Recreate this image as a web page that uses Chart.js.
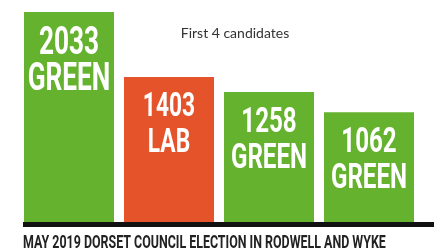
<!DOCTYPE html>
<html>
<head>
<meta charset="utf-8">
<script src="https://cdn.jsdelivr.net/npm/chart.js@4"></script>
<style>
  html, body { margin: 0; padding: 0; background: #fff; }
  #wrap { width: 434px; height: 252px; }
</style>
</head>
<body>
<div id="wrap"><canvas id="votes-chart" width="434" height="252"></canvas></div>
<script>
// --- Data ---
const parties = ['GREEN', 'LAB', 'GREEN', 'GREEN'];
const votes = [2033, 1403, 1258, 1062];
const barColors = ['#65b22f', '#e4532a', '#65b22f', '#65b22f'];

const titleText = 'First 4 candidates';
const captionText = 'MAY 2019 DORSET COUNCIL ELECTION IN RODWELL AND WYKE';

// label size in each bar (the poster uses slightly different sizes)
const labelSizes = [38, 33, 35, 35];

// condensed look: squeeze a bold sans horizontally
const SQUEEZE = 0.69;

function drawSqueezed(ctx, text, x, y, align) {
    ctx.save();
    ctx.translate(x, y);
    ctx.scale(SQUEEZE, 1);
    ctx.textAlign = align;
    ctx.fillText(text, 0, 0);
    ctx.restore();
}

// labels inside the bars, the small title and the caption under the axis
const annotations = {
    id: 'annotations',
    afterDatasetsDraw(chart) {
        const ctx = chart.ctx;
        const area = chart.chartArea;
        const meta = chart.getDatasetMeta(0);

        // thick base line
        ctx.save();
        ctx.fillStyle = '#111';
        ctx.fillRect(area.left + 4, area.bottom, chart.width - area.left - 4, 5);
        ctx.restore();

        ctx.save();
        ctx.fillStyle = '#ffffff';
        ctx.textBaseline = 'alphabetic';
        meta.data.forEach((bar, i) => {
            const size = labelSizes[i];
            const cap = size * 0.711;
            ctx.font = 'bold ' + size + 'px Roboto, "Liberation Sans", sans-serif';
            drawSqueezed(ctx, String(votes[i]), bar.x, bar.y + 15 + cap, 'center');
            drawSqueezed(ctx, parties[i], bar.x, bar.y + 51 + cap, 'center');
        });
        ctx.restore();

        ctx.save();
        ctx.fillStyle = '#333';
        ctx.font = '14px Lato, "Open Sans", sans-serif';
        ctx.textAlign = 'center';
        ctx.textBaseline = 'alphabetic';
        ctx.fillText(titleText, 235, 38);
        ctx.restore();

        ctx.save();
        ctx.fillStyle = '#222';
        ctx.font = 'bold 18px Roboto, "Liberation Sans", sans-serif';
        ctx.textBaseline = 'alphabetic';
        drawSqueezed(ctx, captionText, 23, 248, 'left');
        ctx.restore();
    }
};

const ctx = document.getElementById('votes-chart').getContext('2d');
const votesChart = new Chart(ctx, {
    type: 'bar',
    data: {
        labels: parties,
        datasets: [{
            data: votes,
            backgroundColor: barColors,
            borderWidth: 0,
            barPercentage: 0.9,
            categoryPercentage: 1.0,
        }],
    },
    options: {
        responsive: false,
        animation: false,
        layout: {
            padding: { left: 19, right: 15, top: 0, bottom: 30 },
        },
        plugins: {
            legend: { display: false },
            tooltip: { enabled: false },
        },
        scales: {
            x: { display: false },
            y: { display: false, min: 0, max: 2149 },
        },
    },
    plugins: [annotations],
});
</script>
</body>
</html>
